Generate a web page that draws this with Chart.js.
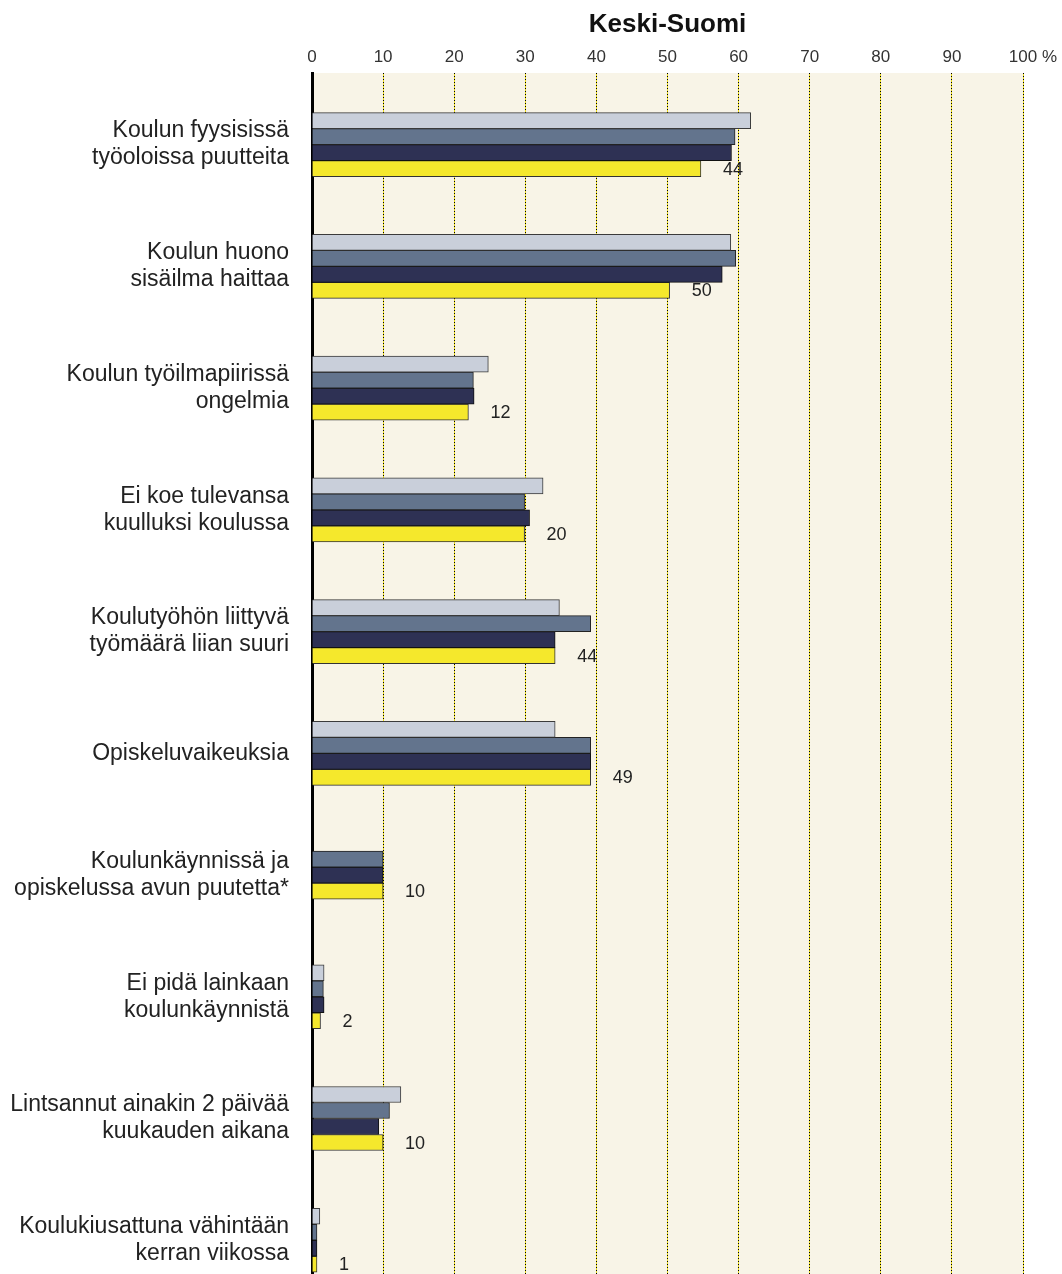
<!DOCTYPE html>
<html lang="fi">
<head>
<meta charset="utf-8">
<title>Keski-Suomi</title>
<script src="https://cdn.jsdelivr.net/npm/chart.js@4"></script>
<style>
  html, body { margin: 0; padding: 0; background: #fff; overflow: hidden; }
  #wrap { width: 1062px; height: 1274px; position: relative; }
</style>
</head>
<body>
<div id="wrap"><canvas id="chart"></canvas></div>
<script>
const categories = [
  ["Koulun fyysisissä", "työoloissa puutteita"],
  ["Koulun huono", "sisäilma haittaa"],
  ["Koulun työilmapiirissä", "ongelmia"],
  ["Ei koe tulevansa", "kuulluksi koulussa"],
  ["Koulutyöhön liittyvä", "työmäärä liian suuri"],
  "Opiskeluvaikeuksia",
  ["Koulunkäynnissä ja", "opiskelussa avun puutetta*"],
  ["Ei pidä lainkaan", "koulunkäynnistä"],
  ["Lintsannut ainakin 2 päivää", "kuukauden aikana"],
  ["Koulukiusattuna vähintään", "kerran viikossa"]
];

const series1 = [61.7, 58.9, 24.8, 32.5, 34.8, 34.2, null, 1.7, 12.5, 1.1];
const series2 = [59.5, 59.6, 22.7, 29.9, 39.2, 39.2, 10.0, 1.6, 10.9, 0.7];
const series3 = [59.0, 57.7, 22.8, 30.6, 34.2, 39.2, 10.0, 1.7, 9.4, 0.7];
const series4 = [54.7, 50.3, 22.0, 29.9, 34.2, 39.2, 10.0, 1.2, 10.0, 0.7];

const valueLabels = ["44", "50", "12", "20", "44", "49", "10", "2", "10", "1"];
const xTicks = [0, 10, 20, 30, 40, 50, 60, 70, 80, 90, 100];

const FONT = "'Liberation Sans', Arial, Helvetica, sans-serif";
Chart.defaults.font.family = FONT;

function points(values) {
  return values.map((v, i) => ({ x: v, y: i }));
}

// cream plot background and the yellow under-line of each grid line
const backdrop = {
  id: "backdrop",
  beforeDraw(chart) {
    const { ctx, chartArea: a, scales: { x } } = chart;
    ctx.save();
    ctx.fillStyle = "#f8f4e7";
    ctx.fillRect(a.left, a.top, a.right - a.left, a.bottom - a.top);
    ctx.strokeStyle = "#ecdc1e";
    ctx.lineWidth = 1;
    xTicks.forEach(t => {
      if (t === 0) return;
      const px = Math.round(x.getPixelForValue(t) - 0.5) + 0.5;
      ctx.beginPath();
      ctx.moveTo(px, a.top);
      ctx.lineTo(px, a.bottom);
      ctx.stroke();
    });
    ctx.restore();
  }
};

// numbers beside the yellow bars, and the % after the last tick
const barNotes = {
  id: "barNotes",
  afterDatasetsDraw(chart) {
    const { ctx } = chart;
    const meta = chart.getDatasetMeta(3);
    ctx.save();
    ctx.font = "18px " + FONT;
    ctx.fillStyle = "#222";
    ctx.textAlign = "left";
    ctx.textBaseline = "middle";
    meta.data.forEach((bar, i) => {
      ctx.fillText(valueLabels[i], bar.x + 22, bar.y + 1);
    });
    const x = chart.scales.x;
    ctx.font = "17px " + FONT;
    ctx.fillStyle = "#333";
    const w = ctx.measureText("100").width;
    ctx.fillText(" %", x.getPixelForValue(100) + w / 2, x.bottom - 5 - 17 * 1.2 / 2);
    ctx.restore();
  }
};

new Chart(document.getElementById("chart"), {
  type: "bar",
  data: {
    datasets: [
      { label: "1", data: points(series1), backgroundColor: "#c9cfda", borderColor: "#3a3a3a" },
      { label: "2", data: points(series2), backgroundColor: "#63748d", borderColor: "#222" },
      { label: "3", data: points(series3), backgroundColor: "#2e3154", borderColor: "#111" },
      { label: "4", data: points(series4), backgroundColor: "#f5e82c", borderColor: "#333" }
    ]
  },
  options: {
    indexAxis: "y",
    responsive: true,
    maintainAspectRatio: false,
    animation: false,
    layout: { padding: { left: 0, right: 39, top: 0, bottom: 0 } },
    plugins: {
      legend: { display: false },
      tooltip: { enabled: false }
    },
    datasets: {
      bar: {
        barThickness: 16,
        skipNull: true,
        borderWidth: 1,
        borderSkipped: "start"
      }
    },
    scales: {
      x: {
        type: "linear",
        position: "top",
        min: 0,
        max: 100,
        afterFit: s => { s.height = 73; },
        afterBuildTicks: s => { s.ticks = xTicks.map(v => ({ value: v })); },
        ticks: { padding: 5, color: "#333", font: { size: 17 }, callback: v => String(v) },
        grid: { color: "#000", lineWidth: 1, drawTicks: false },
        border: { display: false, dash: [1, 2] },
        title: {
          display: true,
          text: "Keski-Suomi",
          color: "#111",
          font: { size: 26, weight: "bold" },
          padding: { top: 9, bottom: 0 }
        }
      },
      y: {
        type: "linear",
        reverse: true,
        offset: false,
        min: -0.588,
        max: 9.277,
        afterFit: s => { s.width = 312; s.paddingTop = 0; s.paddingBottom = 0; },
        afterBuildTicks: s => { s.ticks = categories.map((_, i) => ({ value: i })); },
        ticks: {
          padding: 23,
          color: "#222",
          font: { size: 23, lineHeight: 1.17 },
          callback: v => categories[v]
        },
        grid: { display: false, drawTicks: false, offset: false },
        border: { display: true, color: "#000", width: 3 }
      }
    }
  },
  plugins: [backdrop, barNotes]
});
</script>
</body>
</html>
